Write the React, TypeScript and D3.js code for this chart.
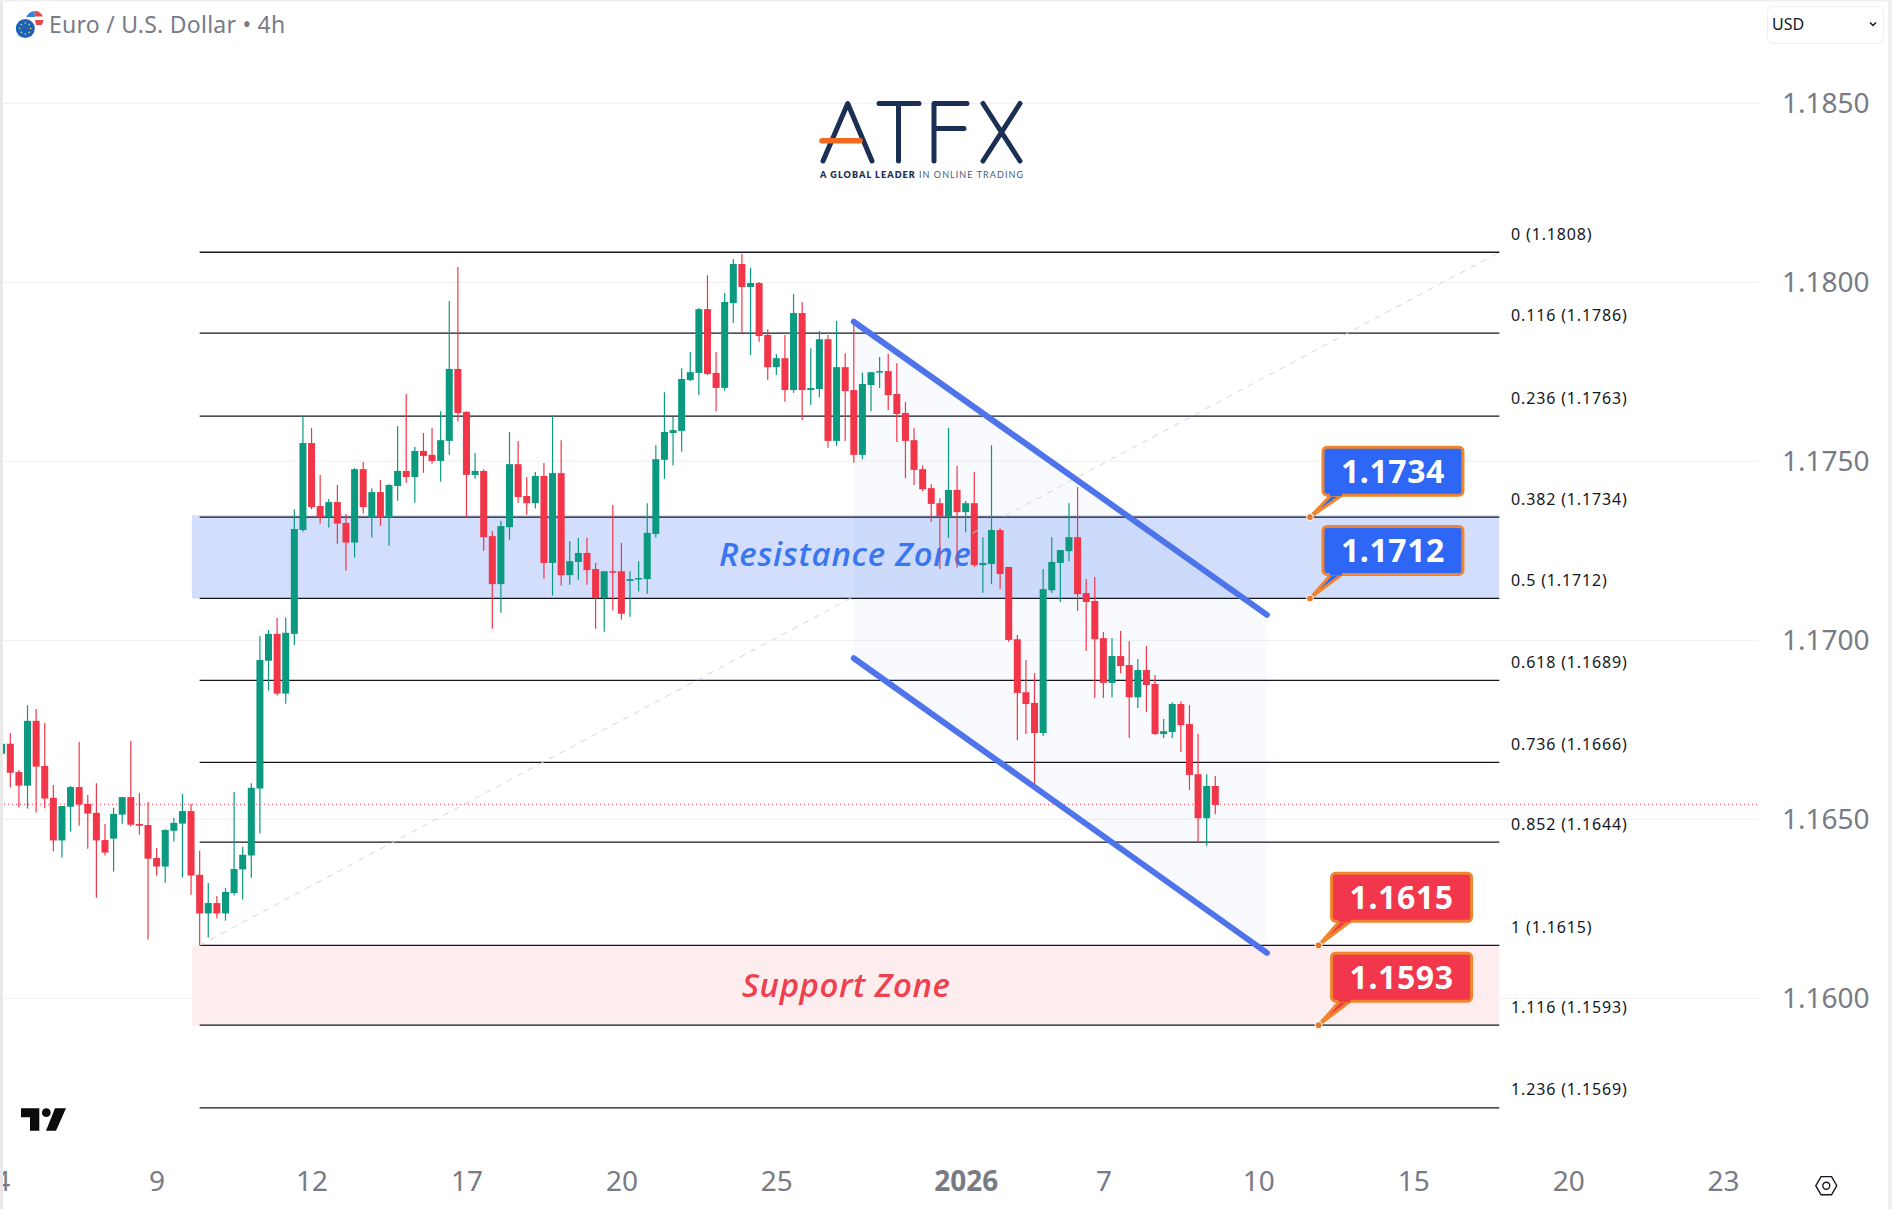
import React, { useEffect, useRef } from "react";
import * as d3 from "d3";

// Candles, oldest first
const opens = [
  1.16683, 1.16711, 1.16632, 1.16594, 1.16775, 1.16649, 1.1656, 1.16441, 1.16535, 1.1659,
  1.16543, 1.16518, 1.16442, 1.16446, 1.16513, 1.16562, 1.16487, 1.16484, 1.16392, 1.16368,
  1.16468, 1.16488, 1.16523, 1.16345, 1.16237, 1.16266, 1.16237, 1.16294, 1.1636, 1.16399,
  1.16586, 1.16943, 1.17018, 1.16851, 1.17018, 1.17308, 1.17551, 1.17375, 1.17344, 1.17386,
  1.17328, 1.17273, 1.17478, 1.17342, 1.17414, 1.17342, 1.17431, 1.17473, 1.17456, 1.17529,
  1.17518, 1.17501, 1.17557, 1.17758, 1.17638, 1.17462, 1.17473, 1.17291, 1.17157, 1.17316,
  1.17492, 1.17403, 1.17383, 1.17459, 1.17216, 1.17467, 1.17182, 1.17219, 1.17244, 1.17199,
  1.17118, 1.17193, 1.17193, 1.17166, 1.17171, 1.17171, 1.17297, 1.17504, 1.17579, 1.17585,
  1.17727, 1.17747, 1.17925, 1.17747, 1.17705, 1.17942, 1.18051, 1.17987, 1.17998, 1.17853,
  1.17763, 1.17788, 1.17699, 1.17914, 1.17699, 1.17702, 1.17841, 1.17557, 1.17763, 1.17699,
  1.17518, 1.17713, 1.17749, 1.17752, 1.17688, 1.17635, 1.17559, 1.17478, 1.17425, 1.17383,
  1.17347, 1.1742, 1.17358, 1.17383, 1.1721, 1.17213, 1.17308, 1.17205, 1.17003, 1.16855,
  1.16825, 1.16741, 1.1714, 1.17216, 1.17249, 1.17288, 1.17132, 1.1711, 1.17006, 1.16881,
  1.16956, 1.16931, 1.16841, 1.16917, 1.16878, 1.16738, 1.16744, 1.16822, 1.16766, 1.16626,
  1.16503, 1.16593,
];
const highs = [
  1.16711, 1.16741, 1.16638, 1.16819, 1.16808, 1.16769, 1.16596, 1.16537, 1.16593, 1.16716,
  1.16568, 1.16601, 1.16487, 1.16532, 1.16562, 1.16719, 1.16574, 1.16548, 1.1642, 1.16472,
  1.16504, 1.16571, 1.16543, 1.16412, 1.16322, 1.16286, 1.16308, 1.16576, 1.16423, 1.16601,
  1.17012, 1.17029, 1.17062, 1.17064, 1.17366, 1.17628, 1.17593, 1.17462, 1.17395, 1.17434,
  1.17353, 1.17481, 1.17498, 1.17425, 1.17448, 1.17436, 1.17598, 1.17688, 1.1754, 1.17579,
  1.17593, 1.1764, 1.17948, 1.18043, 1.1764, 1.17523, 1.17478, 1.17305, 1.17333, 1.17582,
  1.17557, 1.17456, 1.1747, 1.17495, 1.17628, 1.17559, 1.17277, 1.17286, 1.17286, 1.17216,
  1.17193, 1.17378, 1.17272, 1.17193, 1.17221, 1.17383, 1.17545, 1.17693, 1.17624, 1.1776,
  1.17805, 1.17928, 1.1802, 1.17805, 1.1797, 1.18065, 1.18079, 1.1804, 1.18001, 1.17869,
  1.178, 1.17853, 1.17967, 1.17945, 1.17816, 1.17864, 1.17853, 1.17892, 1.17802, 1.17885,
  1.17747, 1.17749, 1.17791, 1.178, 1.17774, 1.17666, 1.17592, 1.17489, 1.17436, 1.17397,
  1.17593, 1.17487, 1.17389, 1.1747, 1.17288, 1.17545, 1.17313, 1.17205, 1.17015, 1.16945,
  1.16908, 1.17199, 1.17288, 1.17252, 1.17383, 1.17428, 1.17171, 1.17177, 1.17023, 1.17006,
  1.17026, 1.16998, 1.16948, 1.16984, 1.16903, 1.1678, 1.16827, 1.1683, 1.16819, 1.16738,
  1.16626, 1.16621,
];
const lows = [
  1.16683, 1.16589, 1.16533, 1.1653, 1.16519, 1.16531, 1.1641, 1.16393, 1.16466, 1.16482,
  1.16418, 1.16281, 1.16399, 1.16354, 1.16487, 1.1648, 1.16457, 1.16164, 1.16343, 1.16323,
  1.16438, 1.16337, 1.16289, 1.16149, 1.1617, 1.16223, 1.16217, 1.16287, 1.16276, 1.16337,
  1.1646, 1.16859, 1.16846, 1.16823, 1.16987, 1.17303, 1.17366, 1.17326, 1.17315, 1.1727,
  1.17194, 1.17231, 1.17354, 1.17287, 1.1732, 1.17264, 1.1739, 1.1744, 1.17384, 1.17468,
  1.17493, 1.17443, 1.17518, 1.17611, 1.17342, 1.17451, 1.1725, 1.17032, 1.17077, 1.17281,
  1.17384, 1.17351, 1.17368, 1.17172, 1.17125, 1.17153, 1.17155, 1.17169, 1.17155, 1.17032,
  1.17024, 1.17083, 1.17058, 1.17066, 1.17136, 1.1713, 1.17287, 1.17451, 1.17488, 1.17527,
  1.17724, 1.17685, 1.17741, 1.1764, 1.17697, 1.17886, 1.17858, 1.17797, 1.17834, 1.17727,
  1.17741, 1.17666, 1.17691, 1.17615, 1.17657, 1.17679, 1.17538, 1.17543, 1.17557, 1.17496,
  1.17506, 1.1764, 1.17705, 1.17643, 1.17554, 1.17453, 1.17434, 1.17417, 1.17331, 1.17199,
  1.17286, 1.17203, 1.17302, 1.17205, 1.17133, 1.17157, 1.17143, 1.16996, 1.16721, 1.16738,
  1.16591, 1.16733, 1.17132, 1.17107, 1.17221, 1.17082, 1.1697, 1.16839, 1.16839, 1.16841,
  1.16908, 1.16727, 1.16811, 1.168, 1.16736, 1.16727, 1.16727, 1.16688, 1.16582, 1.16436,
  1.16426, 1.16514,
];
const closes = [
  1.16711, 1.1663, 1.16594, 1.16775, 1.16647, 1.16558, 1.16441, 1.16537, 1.1659, 1.16541,
  1.16516, 1.16441, 1.16407, 1.16515, 1.16562, 1.16485, 1.16482, 1.1639, 1.16368, 1.1647,
  1.1649, 1.16523, 1.16343, 1.16237, 1.16266, 1.16237, 1.16297, 1.16361, 1.16401, 1.16588,
  1.16945, 1.17018, 1.16851, 1.17021, 1.17311, 1.17551, 1.17372, 1.17344, 1.17386, 1.17326,
  1.17273, 1.17478, 1.17372, 1.17414, 1.17342, 1.17434, 1.17473, 1.17456, 1.17529, 1.17515,
  1.17501, 1.17559, 1.17758, 1.17635, 1.17462, 1.17473, 1.17288, 1.17157, 1.17319, 1.17492,
  1.174, 1.17383, 1.17459, 1.17216, 1.17467, 1.17182, 1.17221, 1.17244, 1.17196, 1.17118,
  1.17193, 1.17191, 1.17074, 1.17171, 1.17174, 1.173, 1.17506, 1.17582, 1.17587, 1.1773,
  1.17749, 1.17925, 1.17744, 1.17705, 1.17945, 1.18051, 1.17987, 1.17998, 1.1785, 1.17763,
  1.17788, 1.17699, 1.17914, 1.17699, 1.17705, 1.17841, 1.17557, 1.17763, 1.17696, 1.17518,
  1.17716, 1.17749, 1.17752, 1.17685, 1.17632, 1.17557, 1.17476, 1.17422, 1.17381, 1.17347,
  1.1742, 1.17358, 1.17383, 1.1721, 1.17216, 1.17308, 1.17185, 1.17001, 1.16853, 1.16822,
  1.16741, 1.17143, 1.17219, 1.17252, 1.17288, 1.17129, 1.17107, 1.17003, 1.16881, 1.16956,
  1.16928, 1.16841, 1.16917, 1.16875, 1.16738, 1.16746, 1.16822, 1.16763, 1.16624, 1.16503,
  1.16593, 1.1654,
];

const lastPrice = 1.16542;

// Axis ticks
const priceTicks = [1.185, 1.18, 1.175, 1.17, 1.165, 1.16];
const timeTickBars = [0, 18, 36, 54, 72, 90, 112, 128, 146, 164, 182, 200];
const timeTickLabels = ["4", "9", "12", "17", "20", "25", "2026", "7", "10", "15", "20", "23"];

// Fibonacci retracement
const fibPrices = [1.18084, 1.17858, 1.17626, 1.17344, 1.17117, 1.16888, 1.16659, 1.16436, 1.16148, 1.15925, 1.15694];
const fibLabels = [
  "0 (1.1808)", "0.116 (1.1786)", "0.236 (1.1763)", "0.382 (1.1734)", "0.5 (1.1712)", "0.618 (1.1689)",
  "0.736 (1.1666)", "0.852 (1.1644)", "1 (1.1615)", "1.116 (1.1593)", "1.236 (1.1569)",
];
const fibStartBar = 23;
const fibEndBar = 174;

// Descending channel: [bar, price]
const channelUpper: [number, number][] = [[99, 1.1789], [147, 1.17071]];
const channelLower: [number, number][] = [[99, 1.1695], [147, 1.16127]];

// Price callouts
const calloutLabels = ["1.1734", "1.1712", "1.1615", "1.1593"];
const calloutBars = [152, 152, 153, 153];
const calloutPrices = [1.17344, 1.17117, 1.16148, 1.15925];
const calloutFills = ["#2e66f5", "#2e66f5", "#f2374c", "#f2374c"];

const GREEN = "#0b9a80";
const RED = "#f23649";
const TEXT_FONT = "'Noto Sans', sans-serif";

export default function App() {
  const svgRef = useRef<SVGSVGElement | null>(null);

  useEffect(() => {
    if (!svgRef.current) return;
    const svg = d3.select(svgRef.current);
    svg.selectAll("*").remove();

    const xScale = d3.scaleLinear().domain([0, 200]).range([1.7, 1723.1]);
    const yScale = d3.scaleLinear().domain([1.16, 1.185]).range([998.3, 103.3]);
    const paneRight = 1759;

    // Grid
    svg.append("g")
      .selectAll("line")
      .data(priceTicks)
      .join("line")
      .attr("x1", 0)
      .attr("x2", paneRight)
      .attr("y1", (d) => yScale(d))
      .attr("y2", (d) => yScale(d))
      .attr("stroke", "#f1f2f3")
      .attr("stroke-width", 1.3);

    // Zones
    const zoneLeft = xScale(22.1);
    const zoneRight = xScale(fibEndBar);
    svg.append("rect")
      .attr("x", zoneLeft)
      .attr("y", yScale(fibPrices[3]) - 2)
      .attr("width", zoneRight - zoneLeft)
      .attr("height", yScale(fibPrices[4]) - yScale(fibPrices[3]) + 2)
      .attr("fill", "#d2defc");
    svg.append("rect")
      .attr("x", zoneLeft)
      .attr("y", yScale(fibPrices[8]))
      .attr("width", zoneRight - zoneLeft)
      .attr("height", yScale(fibPrices[9]) - yScale(fibPrices[8]))
      .attr("fill", "#fdedee");

    // Channel shading
    const channelArea = d3.line<[number, number]>()
      .x((d) => xScale(d[0]))
      .y((d) => yScale(d[1]));
    svg.append("path")
      .attr("d", channelArea([channelUpper[0], channelUpper[1], channelLower[1], channelLower[0]]) + "Z")
      .attr("fill", "#4f74ea")
      .attr("fill-opacity", 0.04);

    // Zone captions
    svg.append("text")
      .attr("x", 719)
      .attr("y", 566)
      .attr("textLength", 252)
      .attr("font-family", "'Open Sans', sans-serif")
      .attr("font-style", "italic")
      .attr("font-weight", 600)
      .attr("font-size", 33)
      .attr("fill", "#3a76ef")
      .text("Resistance Zone");
    svg.append("text")
      .attr("x", 742)
      .attr("y", 997)
      .attr("textLength", 208)
      .attr("font-family", "'Open Sans', sans-serif")
      .attr("font-style", "italic")
      .attr("font-weight", 600)
      .attr("font-size", 33)
      .attr("fill", "#f0404f")
      .text("Support Zone");

    // Fib levels
    svg.append("g")
      .selectAll("line")
      .data(fibPrices)
      .join("line")
      .attr("x1", xScale(fibStartBar))
      .attr("x2", xScale(fibEndBar))
      .attr("y1", (d) => yScale(d))
      .attr("y2", (d) => yScale(d))
      .attr("stroke", "#131722")
      .attr("stroke-width", 1.3);
    svg.append("g")
      .selectAll("text")
      .data(fibPrices)
      .join("text")
      .attr("x", 1511)
      .attr("y", (d) => yScale(d) - 18)
      .attr("dy", "0.35em")
      .attr("font-family", TEXT_FONT)
      .attr("font-size", 16)
      .attr("letter-spacing", 0.85)
      .attr("fill", "#131722")
      .text((_, i) => fibLabels[i]);

    // Last price
    svg.append("line")
      .attr("x1", 0)
      .attr("x2", paneRight)
      .attr("y1", yScale(lastPrice))
      .attr("y2", yScale(lastPrice))
      .attr("stroke", RED)
      .attr("stroke-width", 1)
      .attr("stroke-dasharray", "1,3");

    // Candles
    const bars = d3.range(opens.length);
    const candles = svg.append("g");
    candles.selectAll("line")
      .data(bars)
      .join("line")
      .attr("x1", (i) => xScale(i))
      .attr("x2", (i) => xScale(i))
      .attr("y1", (i) => yScale(highs[i]))
      .attr("y2", (i) => yScale(lows[i]))
      .attr("stroke", (i) => (closes[i] >= opens[i] ? GREEN : RED))
      .attr("stroke-width", 1.2);
    candles.selectAll("rect")
      .data(bars)
      .join("rect")
      .attr("x", (i) => xScale(i) - 3.5)
      .attr("width", 7)
      .attr("y", (i) => yScale(Math.max(opens[i], closes[i])))
      .attr("height", (i) => Math.max(1.5, Math.abs(yScale(opens[i]) - yScale(closes[i]))))
      .attr("fill", (i) => (closes[i] >= opens[i] ? GREEN : RED));

    // Fib trend line
    svg.append("line")
      .attr("x1", xScale(fibStartBar))
      .attr("y1", yScale(fibPrices[8]))
      .attr("x2", xScale(fibEndBar))
      .attr("y2", yScale(fibPrices[0]))
      .attr("stroke", "#d4d6da")
      .attr("stroke-width", 1)
      .attr("stroke-dasharray", "6,6");

    // Channel lines
    [channelUpper, channelLower].forEach((pts) => {
      svg.append("path")
        .attr("d", channelArea(pts))
        .attr("fill", "none")
        .attr("stroke", "#4f74ea")
        .attr("stroke-width", 6)
        .attr("stroke-linecap", "round");
    });

    // Callouts
    calloutLabels.forEach((label, i) => {
      const px = xScale(calloutBars[i]);
      const py = yScale(calloutPrices[i]);
      const boxW = 140;
      const boxH = 48;
      const boxX = px + 13;
      const boxY = py - (i === 0 ? 70 : 72);
      const g = svg.append("g");
      g.append("path")
        .attr("d", `M${px},${py}L${boxX + 8},${boxY + boxH}L${boxX + 19},${boxY + boxH}Z`)
        .attr("fill", calloutFills[i])
        .attr("stroke", "#f0852f")
        .attr("stroke-width", 3)
        .attr("stroke-linejoin", "round");
      g.append("rect")
        .attr("x", boxX)
        .attr("y", boxY)
        .attr("width", boxW)
        .attr("height", boxH)
        .attr("rx", 4)
        .attr("fill", calloutFills[i])
        .attr("stroke", "#f0852f")
        .attr("stroke-width", 3);
      g.append("rect")
        .attr("x", boxX + 7)
        .attr("y", boxY + boxH - 2)
        .attr("width", 12)
        .attr("height", 3)
        .attr("fill", calloutFills[i]);
      g.append("circle")
        .attr("cx", px)
        .attr("cy", py)
        .attr("r", 3.5)
        .attr("fill", "#e8792b")
        .attr("stroke", "#ffffff")
        .attr("stroke-width", 1);
      g.append("text")
        .attr("x", boxX + boxW / 2)
        .attr("y", boxY + boxH / 2)
        .attr("dy", "0.36em")
        .attr("text-anchor", "middle")
        .attr("font-family", TEXT_FONT)
        .attr("font-weight", 700)
        .attr("font-size", 32)
        .attr("letter-spacing", 0.6)
        .attr("fill", "#ffffff")
        .text(label);
    });

    // Price axis
    const yAxis = d3.axisRight(yScale)
      .tickValues(priceTicks)
      .tickFormat(d3.format(".4f") as any)
      .tickSize(0);
    svg.append("g")
      .attr("transform", "translate(1782,0)")
      .call(yAxis)
      .call((g) => g.select(".domain").remove())
      .call((g) => g.selectAll("text")
        .attr("x", 0)
        .attr("font-family", TEXT_FONT)
        .attr("font-size", 28)
        .attr("fill", "#787b86"));

    // Time axis
    const xAxis = d3.axisBottom(xScale)
      .tickValues(timeTickBars)
      .tickFormat((_, i) => timeTickLabels[i])
      .tickSize(0);
    svg.append("g")
      .attr("transform", "translate(0,1181)")
      .call(xAxis)
      .call((g) => g.select(".domain").remove())
      .call((g) => g.selectAll("text")
        .attr("y", 0)
        .attr("dy", "0.36em")
        .attr("font-family", TEXT_FONT)
        .attr("font-size", 28)
        .attr("font-weight", (_, i) => (timeTickLabels[i] === "2026" ? 700 : 400))
        .attr("fill", "#787b86"));

    // Window edges
    svg.append("rect").attr("width", 3).attr("height", 1209).attr("fill", "#e9e9ea");
    svg.append("rect").attr("x", 1888).attr("width", 4).attr("height", 1209).attr("fill", "#efeff0");
    svg.append("rect").attr("width", 1892).attr("height", 1.5).attr("fill", "#efeff0");

    // Header
    const flag = svg.append("g");
    flag.append("circle").attr("cx", 34.7).attr("cy", 19.7).attr("r", 8.7).attr("fill", "#ffffff");
    flag.append("path").attr("d", "M34.7,11A8.7,8.7 0 0 1 42.8,16.5L34.7,16.5Z").attr("fill", "#e5484d");
    flag.append("path").attr("d", "M35,20L43.4,20A8.7,8.7 0 0 1 41.5,25L36,25Z").attr("fill", "#e5484d");
    flag.append("path").attr("d", "M26,19.7A8.7,8.7 0 0 1 34.7,11L34.7,17L26,17Z").attr("fill", "#3b7fd4");
    flag.append("circle").attr("cx", 25.3).attr("cy", 28.5).attr("r", 11).attr("fill", "#ffffff");
    flag.append("circle").attr("cx", 25.3).attr("cy", 28.5).attr("r", 9.5).attr("fill", "#1c63b7");
    d3.range(8).forEach((k) => {
      flag.append("circle")
        .attr("cx", 25.3 + 5.5 * Math.cos((k * Math.PI) / 4))
        .attr("cy", 28.5 + 5.5 * Math.sin((k * Math.PI) / 4))
        .attr("r", 0.8)
        .attr("fill", "#f5d547");
    });
    svg.append("text")
      .attr("x", 49)
      .attr("y", 32.5)
      .attr("font-family", TEXT_FONT)
      .attr("font-size", 23)
      .attr("letter-spacing", 0.25)
      .attr("fill", "#787b86")
      .text("Euro / U.S. Dollar • 4h");

    // Currency button
    svg.append("rect")
      .attr("x", 1767.5)
      .attr("y", 6.5)
      .attr("width", 116)
      .attr("height", 37)
      .attr("rx", 6)
      .attr("fill", "#ffffff")
      .attr("stroke", "#efeff1");
    svg.append("text")
      .attr("x", 1772)
      .attr("y", 30)
      .attr("font-family", TEXT_FONT)
      .attr("font-size", 16)
      .attr("fill", "#131722")
      .text("USD");
    svg.append("path")
      .attr("d", "M1870,22.5L1873,25.5L1876,22.5")
      .attr("fill", "none")
      .attr("stroke", "#131722")
      .attr("stroke-width", 1.5);

    // ATFX logo
    const logo = svg.append("g")
      .attr("fill", "none")
      .attr("stroke", "#1b2f55")
      .attr("stroke-width", 5)
      .attr("stroke-linecap", "round")
      .attr("stroke-linejoin", "round");
    logo.append("path").attr("d", "M823,161L847.7,103.5L872,161");
    logo.append("path").attr("d", "M879,103.5H919M898.5,103.5V161");
    logo.append("path").attr("d", "M934,103.5H967M934,103.5V161M934,128.5H964");
    logo.append("path").attr("d", "M983,103.5L1020,161M1020,103.5L983,161");
    svg.append("line")
      .attr("x1", 822)
      .attr("x2", 860)
      .attr("y1", 140.7)
      .attr("y2", 140.7)
      .attr("stroke", "#f26a22")
      .attr("stroke-width", 5.5)
      .attr("stroke-linecap", "round");
    const tagline = svg.append("text")
      .attr("x", 820)
      .attr("y", 177.5)
      .attr("textLength", 203)
      .attr("font-family", "Lato, sans-serif")
      .attr("font-size", 9)
      .attr("fill", "#1b2f55");
    tagline.append("tspan").attr("font-weight", 800).text("A GLOBAL LEADER ");
    tagline.append("tspan").attr("font-weight", 400).attr("fill", "#4a5a78").text("IN ONLINE TRADING");

    // TradingView mark
    const mark = svg.append("g").attr("fill", "#0b0b0d");
    mark.append("path").attr("d", "M21,1108.3H39.3V1130.7H30V1117.3H21Z");
    mark.append("circle").attr("cx", 46.3).attr("cy", 1112.7).attr("r", 4.4);
    mark.append("path").attr("d", "M55,1108.3H66L56,1130.7H46Z");

    // Settings icon
    const hex = d3.range(6).map((k) => {
      const a = (k * Math.PI) / 3;
      return [1826.3 + 10.5 * Math.cos(a), 1185.7 + 10.5 * Math.sin(a)] as [number, number];
    });
    svg.append("path")
      .attr("d", d3.line()(hex) + "Z")
      .attr("fill", "none")
      .attr("stroke", "#131722")
      .attr("stroke-width", 1.4);
    svg.append("circle")
      .attr("cx", 1826.3)
      .attr("cy", 1185.7)
      .attr("r", 3.5)
      .attr("fill", "none")
      .attr("stroke", "#131722")
      .attr("stroke-width", 1.4);
  }, []);

  return (
    <svg
      ref={svgRef}
      width={1892}
      height={1209}
      style={{ position: "absolute", left: 0, top: 0, display: "block", background: "#ffffff" }}
    />
  );
}
